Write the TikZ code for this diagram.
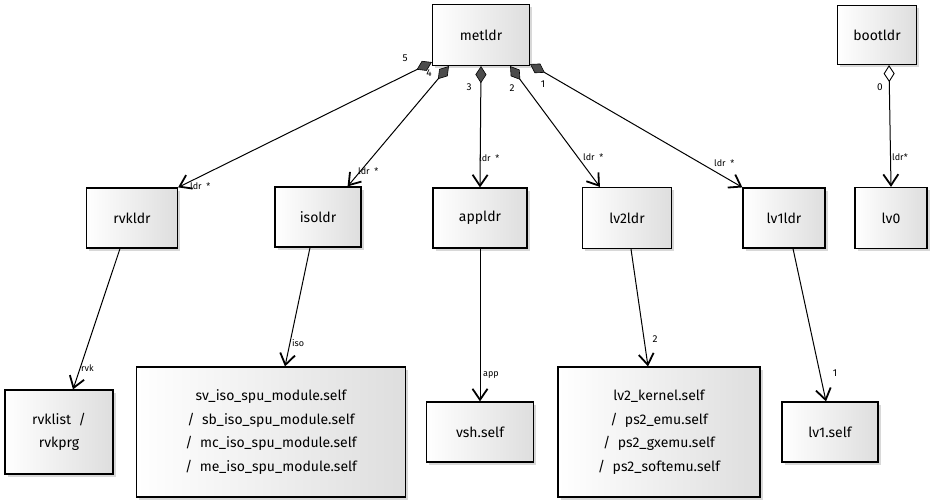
\documentclass[tikz,border=0pt]{standalone}
\usepackage{fontspec}
\setmainfont{Fira Sans}
\usetikzlibrary{arrows.meta,shadows,calc}
\begin{document}
\begin{tikzpicture}[x=1pt,y=-1pt,
  box/.style={draw=black, line width=1.2pt, left color=white, right color=black!13,
    drop shadow={shadow xshift=2.5pt,shadow yshift=-2.5pt,fill=black!30,opacity=0.5},
    inner sep=2pt, align=center, font=\fontsize{14}{23.5}\selectfont},
  link/.style={line width=1pt, -{Straight Barb[length=11pt,width=15pt,line width=1.8pt]}},
  comp/.style={link, {Diamond[length=17pt,width=11pt,fill=black!70,line width=0.6pt]}-{Straight Barb[length=11pt,width=15pt,line width=1.8pt]}},
  aggr/.style={link, {Diamond[length=17pt,width=11pt,open,fill=white,line width=0.9pt]}-{Straight Barb[length=11pt,width=15pt,line width=1.8pt]}},
  lbl/.style={font=\fontsize{9}{10}\selectfont, inner sep=0pt, anchor=west},
  num/.style={font=\fontsize{10}{11}\selectfont, inner sep=0pt}
]
\useasboundingbox[fill=white] (0,0) rectangle (947,501);

% boxes
\node[box, minimum width=97pt, minimum height=61pt] (metldr) at (481,35) {metldr};
\node[box, minimum width=79pt, minimum height=59pt] (bootldr) at (877,35) {bootldr};
\node[box, minimum width=91pt, minimum height=60pt] (rvkldr) at (132,218) {rvkldr};
\node[box, minimum width=86pt, minimum height=60pt] (isoldr) at (318,217) {isoldr};
\node[box, minimum width=94pt, minimum height=60pt] (appldr) at (480,218) {appldr};
\node[box, minimum width=89pt, minimum height=61pt] (lvtwoldr) at (627,218) {lv2ldr};
\node[box, minimum width=82pt, minimum height=60pt] (lvoneldr) at (784,218) {lv1ldr};
\node[box, minimum width=72pt, minimum height=61pt] (lvzero) at (891,218) {lv0};
\node[box, minimum width=108pt, minimum height=84pt] (rvklist) at (59,432) {rvklist \ /\\rvkprg};
\node[box, minimum width=269pt, minimum height=130pt] (isomods) at (271,432)
  {sv\_iso\_spu\_module.self\\/ \ sb\_iso\_spu\_module.self\\/ \ mc\_iso\_spu\_module.self\\/ \ me\_iso\_spu\_module.self};
\node[box, minimum width=107pt, minimum height=60pt] (vsh) at (480,432) {vsh.self};
\node[box, minimum width=202pt, minimum height=130pt] (lvtwok) at (659,432)
  {lv2\_kernel.self\\/ \ ps2\_emu.self\\/ \ ps2\_gxemu.self\\/ \ ps2\_softemu.self};
\node[box, minimum width=96pt, minimum height=60pt] (lvoneself) at (830,432) {lv1.self};

% composition edges from metldr
\draw[comp] ($(metldr.south west)+(0,-4)$) -- (rvkldr.north east);
\draw[comp] ($(metldr.south west)+(17,0)$) -- ($(isoldr.north east)+(-14,0)$);
\draw[comp] (metldr.south) -- (appldr.north);
\draw[comp] ($(metldr.south east)+(-20,0)$) -- ($(lvtwoldr.north west)+(18,0)$);
\draw[comp] ($(metldr.south east)+(0,-2)$) -- (lvoneldr.north west);
\draw[aggr] ($(bootldr.south)+(12,0)$) -- (lvzero.north);

% lower edges
\draw[link] ($(rvkldr.south)+(-12,0)$) -- ($(rvklist.north)+(14,0)$);
\draw[link] ($(isoldr.south)+(-8,0)$) -- ($(isomods.north)+(14,0)$);
\draw[link] (appldr.south) -- (vsh.north);
\draw[link] ($(lvtwoldr.south)+(4,0)$) -- ($(lvtwok.north)+(-11,0)$);
\draw[link] ($(lvoneldr.south)+(9,0)$) -- ($(lvoneself.north)+(-4,0)$);

% multiplicity labels
\node[num] (n5) at (405,58) {5};
\node[num] (n4) at (429,73) {4};
\node[num] (n3) at (469,87) {3};
\node[num] (n2) at (512,88) {2};
\node[num] (n1) at (543,84) {1};
\node[num] (n0) at (880,87) {0};

\node[lbl] (l5) at (190,186) {ldr \ *};
\node[lbl] (l4) at (358,171) {ldr \ *};
\node[lbl] (l3) at (479,158) {ldr \ *};
\node[lbl] (l2) at (583,157) {ldr \ *};
\node[lbl] (l1) at (714,163) {ldr \ *};
\node[lbl] (l0) at (892,157) {ldr*};

\node[lbl] (lrvk) at (81,368) {rvk};
\node[lbl] (liso) at (292,343) {iso};
\node[lbl] (lapp) at (483,375) {app};
\node[num] (lk2) at (655,339) {2};
\node[num] (lk1) at (835,373) {1};
\end{tikzpicture}
\end{document}
